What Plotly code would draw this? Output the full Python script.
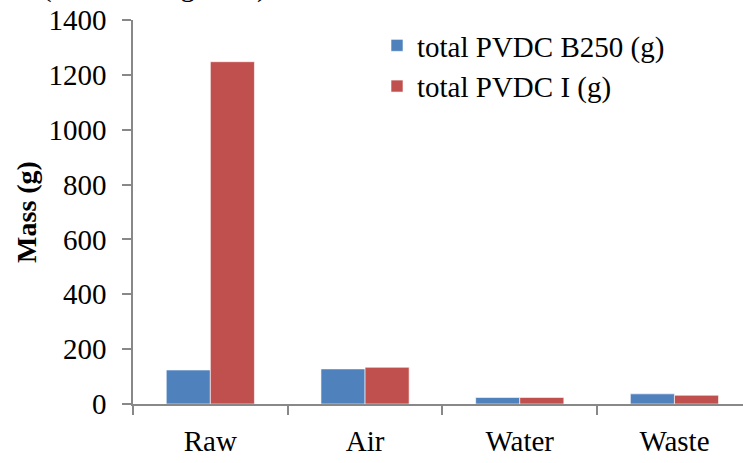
import plotly.graph_objects as go

categories = ["Raw", "Air", "Water", "Waste"]
b250 = [124, 128, 24, 37]
pvdc_i = [1248, 134, 24, 32]
series_names = ["total PVDC B250 (g)", "total PVDC I (g)"]
y_ticks = [0, 200, 400, 600, 800, 1000, 1200, 1400]

W, H = 743, 463
ml, mr, mt, mb = 133, 0, 20, 59
pw = W - ml - mr
cat_px = 154.7
x_max = -0.5 + pw / cat_px

FAM = "Liberation Serif"

def f(size, **kw):
    return dict(family=FAM, size=size, color="black", **kw)

fig = go.Figure()
fig.add_trace(go.Bar(x=categories, y=b250, name=series_names[0],
                     marker=dict(color="#4F81BD", line=dict(color="#FFFFFF", width=0.6))))
fig.add_trace(go.Bar(x=categories, y=pvdc_i, name=series_names[1],
                     marker=dict(color="#C0504D", line=dict(color="#FFFFFF", width=0.6))))

fig.update_layout(
    width=W, height=H,
    margin=dict(l=ml, r=mr, t=mt, b=mb, pad=0, autoexpand=False),
    paper_bgcolor="white", plot_bgcolor="white",
    barmode="group", bargap=0.43, bargroupgap=0,
    font=f(29),
    showlegend=True,
    legend=dict(x=0.40, y=1.0, xanchor="left", yanchor="top",
                bgcolor="rgba(0,0,0,0)", font=f(29),
                tracegroupgap=0, itemwidth=30),
    xaxis=dict(range=[-0.5, x_max], showline=True, linecolor="#888888", linewidth=1.5,
               ticks="outside", tickson="boundaries", ticklen=9, tickcolor="#888888",
               tickwidth=1.5, showgrid=False, zeroline=False, automargin=False,
               tickfont=f(29), fixedrange=True, ticklabeloverflow="allow",
               ticklabelstandoff=10),
    yaxis=dict(range=[0, 1400], tickvals=y_ticks, showline=True, linecolor="#888888",
               linewidth=1.5, ticks="outside", ticklen=9, tickcolor="#888888", tickwidth=1.5,
               showgrid=False, zeroline=False, tickfont=f(29), automargin=False,
               ticklabeloverflow="allow", ticklabelstandoff=10,
               title=dict(text="<b>Mass (g)</b>", font=f(28), standoff=4)),
    annotations=[dict(text="(Mass at stage end)", xref="paper", yref="paper",
                      x=(40 - ml) / pw, y=1, xanchor="left", yanchor="bottom",
                      yshift=15, showarrow=False, font=f(29))],
)

fig.write_html("out.html", config={"displayModeBar": False},
               post_script="document.body.style.margin='0';document.body.style.overflow='hidden';")
